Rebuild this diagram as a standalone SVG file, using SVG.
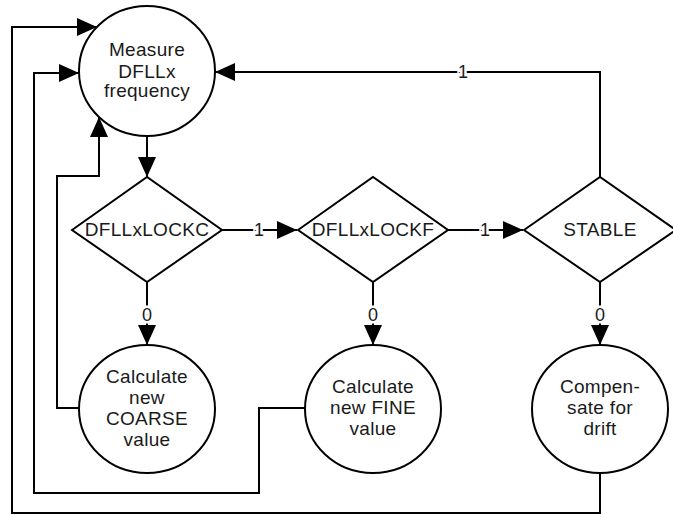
<svg xmlns="http://www.w3.org/2000/svg" width="673" height="515" viewBox="0 0 673 515">
<style>
.n{fill:#fff;stroke:#000;stroke-width:2}
.t{font-family:"Liberation Sans",Arial,sans-serif;font-size:19px;letter-spacing:0.3px;fill:#1a1a1a;text-anchor:middle}
.c{fill:none;stroke:#000;stroke-width:2}
.l{font-family:"Liberation Sans",Arial,sans-serif;font-size:18px;fill:#1a1a1a;text-anchor:middle;stroke:#fff;stroke-width:5;paint-order:stroke}
</style>
<defs>
<marker id="a" markerUnits="userSpaceOnUse" markerWidth="20" markerHeight="18" refX="20" refY="9" orient="auto">
<path d="M0,0 L20,9 L0,18 z" fill="#000"/>
</marker>
</defs>
<g id="connectors">
<path class="c" d="M147,136 V177" marker-end="url(#a)"/>
<path class="c" d="M222,230 H297" marker-end="url(#a)"/>
<path class="c" d="M448,230 H523" marker-end="url(#a)"/>
<path class="c" d="M600,178 V72 H215" marker-end="url(#a)"/>
<path class="c" d="M147,282 V345" marker-end="url(#a)"/>
<path class="c" d="M373,282 V345" marker-end="url(#a)"/>
<path class="c" d="M600,282 V345" marker-end="url(#a)"/>
<path class="c" d="M80,408 H57 V176 H99 V117" marker-end="url(#a)"/>
<path class="c" d="M305,408 H259 V493 H34 V73 H79" marker-end="url(#a)"/>
<path class="c" d="M600,473 V513 H12 V27 H97" marker-end="url(#a)"/>
<text class="l" x="259" y="236">1</text>
<text class="l" x="485" y="236">1</text>
<text class="l" x="463" y="78">1</text>
<text class="l" x="147" y="321">0</text>
<text class="l" x="373" y="321">0</text>
<text class="l" x="600" y="321">0</text>
</g>
<g id="measure">
<ellipse class="n" cx="147" cy="71" rx="68" ry="65"/>
<text class="t" x="147" y="56">Measure</text>
<text class="t" x="147" y="78">DFLLx</text>
<text class="t" x="147" y="97">frequency</text>
</g>
<g id="lockc">
<path class="n" d="M72,230 L147,177 L222,230 L147,282 z"/>
<text class="t" x="147" y="236">DFLLxLOCKC</text>
</g>
<g id="lockf">
<path class="n" d="M298,230 L373,177 L448,230 L373,282 z"/>
<text class="t" x="373" y="236">DFLLxLOCKF</text>
</g>
<g id="stable">
<path class="n" d="M524,230 L600,177 L676,230 L600,282 z"/>
<text class="t" x="600" y="236">STABLE</text>
</g>
<g id="coarse">
<ellipse class="n" cx="147" cy="409" rx="68" ry="64"/>
<text class="t" x="147" y="383">Calculate</text>
<text class="t" x="147" y="404">new</text>
<text class="t" x="147" y="425">COARSE</text>
<text class="t" x="147" y="446">value</text>
</g>
<g id="fine">
<ellipse class="n" cx="373" cy="409" rx="68" ry="64"/>
<text class="t" x="373" y="393">Calculate</text>
<text class="t" x="373" y="414">new FINE</text>
<text class="t" x="373" y="435">value</text>
</g>
<g id="drift">
<ellipse class="n" cx="600" cy="409" rx="68" ry="64"/>
<text class="t" x="600" y="393">Compen-</text>
<text class="t" x="600" y="414">sate for</text>
<text class="t" x="600" y="435">drift</text>
</g>
</svg>
